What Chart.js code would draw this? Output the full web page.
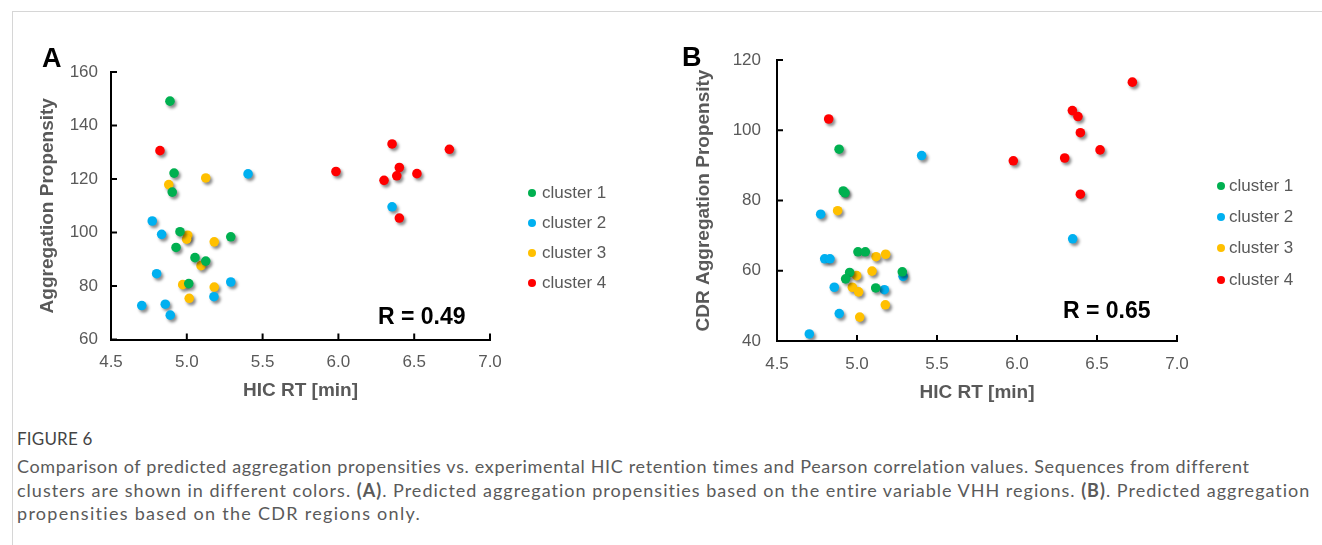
<!DOCTYPE html>
<html>
<head>
<meta charset="utf-8">
<script src="https://cdn.jsdelivr.net/npm/chart.js@4.4.1/dist/chart.umd.min.js"></script>
<style>
html,body{margin:0;padding:0;background:#fff;width:1322px;height:545px;overflow:hidden;font-family:"Liberation Sans",Arial,sans-serif;}
#frameTop{position:absolute;left:12px;top:11px;width:1310px;height:0;border-top:1px solid #d6d6d6;}
#frameLeft{position:absolute;left:12px;top:11px;width:0;height:534px;border-left:1px solid #d6d6d6;}
canvas{position:absolute;top:0;}
#cA{left:0;}
#cB{left:660px;}
.panel{position:absolute;font-weight:bold;font-size:27px;color:#000;line-height:1;}
.rlab{position:absolute;font-weight:bold;font-size:23px;color:#000;line-height:1;white-space:nowrap;}
.leg{position:absolute;font-size:17px;color:#595959;line-height:1;}
.leg div{position:absolute;white-space:nowrap;}
.leg span.dot{display:inline-block;width:8px;height:8px;border-radius:50%;vertical-align:1px;}
#cap{position:absolute;left:17px;top:428px;font-family:Lato,"Open Sans",sans-serif;color:#5a5a5a;}
#cap .fig{font-size:17px;color:#444;letter-spacing:0.2px;margin-bottom:6px;}
#cap .ln{font-size:18px;line-height:23.5px;white-space:nowrap;}
#cap .ln span{display:inline-block;}
</style>
</head>
<body>
<div id="frameTop"></div><div id="frameLeft"></div>
<canvas id="cA" width="660" height="420"></canvas>
<canvas id="cB" width="662" height="420"></canvas>
<div class="panel" style="left:42px;top:45px;">A</div>
<div class="panel" style="left:682px;top:44px;">B</div>
<div class="rlab" style="left:378px;top:305px;">R = 0.49</div>
<div class="rlab" style="left:1063px;top:299px;">R = 0.65</div>
<div class="leg" id="legA" style="left:528px;top:0;"></div>
<div class="leg" id="legB" style="left:1217px;top:0;"></div>
<div id="cap">
<div class="fig">FIGURE 6</div>
<div class="ln"><span>Comparison of predicted aggregation propensities vs. experimental HIC retention times and Pearson correlation values. Sequences from different</span></div>
<div class="ln"><span>clusters are shown in different colors. <b>(A)</b>. Predicted aggregation propensities based on the entire variable VHH regions. <b>(B)</b>. Predicted aggregation</span></div>
<div class="ln"><span>propensities based on the CDR regions only.</span></div>
</div>
<script>
// ---------- data ----------
const clusterLabels = ["cluster 1","cluster 2","cluster 3","cluster 4"];
const clusterColors = ["#00B050","#00B0F0","#FFC000","#FF0000"];
const xTicks = [4.5,5.0,5.5,6.0,6.5,7.0];
const yTicksA = [60,80,100,120,140,160];
const yTicksB = [40,60,80,100,120];

// Panel A: HIC RT vs Aggregation Propensity
const a1x = [4.889,4.916,4.904,4.955,5.290,4.929,5.054,5.125,5.013];
const a1y = [149.1,122.2,115.1,100.3,98.4,94.4,90.6,89.3,80.9];
const a2x = [5.404,4.772,4.834,4.801,5.290,5.179,4.703,4.858,4.891,6.354];
const a2y = [121.9,104.3,99.3,84.6,81.5,76.0,72.7,73.2,69.1,109.6];
const a3x = [5.125,4.881,5.006,4.999,5.181,5.094,4.973,5.181,5.016];
const a3y = [120.4,117.9,99.0,97.5,96.5,87.6,80.5,79.6,75.4];
const a4x = [4.823,6.354,6.732,5.984,6.402,6.385,6.518,6.301,6.402];
const a4y = [130.6,133.1,131.1,122.8,124.3,121.2,122.0,119.5,105.4];

// Panel B: HIC RT vs CDR Aggregation Propensity
const b1x = [4.888,4.914,4.925,5.006,5.052,4.954,4.929,5.283,5.117];
const b1y = [94.6,82.7,82.2,65.4,65.4,59.5,57.7,59.7,55.1];
const b2x = [5.404,4.773,4.798,4.831,5.288,4.858,5.171,4.889,4.702,6.348];
const b2y = [92.8,76.1,63.4,63.4,58.4,55.3,54.6,47.8,42.0,69.1];
const b3x = [4.879,5.119,5.179,4.998,5.094,4.971,5.010,5.177,5.017];
const b3y = [77.1,64.0,64.7,58.6,59.9,55.3,54.0,50.3,46.8];
const b4x = [4.823,6.721,6.346,6.381,6.396,6.519,5.977,6.298,6.396];
const b4y = [103.2,113.7,105.6,103.9,99.3,94.4,91.3,92.1,81.8];

const seriesA = [[a1x,a1y],[a2x,a2y],[a3x,a3y],[a4x,a4y]];
const seriesB = [[b1x,b1y],[b2x,b2y],[b3x,b3y],[b4x,b4y]];

// ---------- helpers ----------
const FONT = "'Liberation Sans', Arial, sans-serif";
const GRAY = "#595959";

function toPts(xs, ys){ return xs.map((x,i)=>({x:x, y:ys[i]})); }

const shadowPlugin = {
  id:'shadow',
  beforeDatasetsDraw(chart){
    const c = chart.ctx; c.save();
    c.shadowColor = 'rgba(0,0,0,0.45)';
    c.shadowBlur = 3; c.shadowOffsetX = 2; c.shadowOffsetY = 2.5;
  },
  afterDatasetsDraw(chart){ chart.ctx.restore(); }
};
const inwardTicks = {
  id:'inwardTicks',
  afterDraw(chart){
    const {ctx, chartArea:a, scales:{x,y}} = chart;
    ctx.save(); ctx.strokeStyle = '#000'; ctx.lineWidth = 2;
    x.ticks.forEach(t=>{ const p = x.getPixelForValue(t.value);
      ctx.beginPath(); ctx.moveTo(p, a.bottom); ctx.lineTo(p, a.bottom-6); ctx.stroke(); });
    y.ticks.forEach(t=>{ const p = y.getPixelForValue(t.value);
      ctx.beginPath(); ctx.moveTo(a.left, p); ctx.lineTo(a.left+6, p); ctx.stroke(); });
    ctx.restore();
  }
};

function makeChart(id, series, yTicks, yTitle, geo){
  const datasets = series.map((s,i)=>({
    label: clusterLabels[i], data: toPts(s[0], s[1]),
    backgroundColor: clusterColors[i], borderWidth: 0,
    pointRadius: 4.8, pointHoverRadius: 4.8
  }));
  return new Chart(document.getElementById(id), {
    type:'scatter',
    data:{datasets},
    plugins:[shadowPlugin, inwardTicks],
    options:{
      responsive:false, animation:false, events:[],
      layout:{padding:{left:20, top:geo.top, right:geo.right, bottom:12}},
      plugins:{legend:{display:false}, tooltip:{enabled:false}},
      scales:{
        x:{
          type:'linear', min:xTicks[0], max:xTicks[xTicks.length-1],
          afterBuildTicks(s){ s.ticks = xTicks.map(v=>({value:v})); },
          afterFit(s){ s.height = geo.xh; },
          grid:{display:false, drawTicks:false},
          border:{display:true, color:'#000', width:2},
          ticks:{padding:13, color:GRAY, font:{family:FONT, size:17},
                 callback:v=>Number(v).toFixed(1), maxRotation:0, autoSkip:false},
          title:{display:true, text:'HIC RT [min]', color:GRAY,
                 font:{family:FONT, size:19, weight:'bold'}, padding:{top:0,bottom:geo.xtp}}
        },
        y:{
          type:'linear', min:yTicks[0], max:yTicks[yTicks.length-1],
          afterBuildTicks(s){ s.ticks = yTicks.map(v=>({value:v})); },
          afterFit(s){ s.width = geo.yw; },
          grid:{display:false, drawTicks:false},
          border:{display:true, color:'#000', width:2},
          ticks:{padding:geo.ypad, color:GRAY, font:{family:FONT, size:17}, autoSkip:false},
          title:{display:true, text:yTitle, color:GRAY,
                 font:{family:FONT, size:19, weight:'bold'}, padding:{top:geo.ytp,bottom:0}}
        }
      }
    }
  });
}

makeChart('cA', seriesA, yTicksA, 'Aggregation Propensity',
  {top:72, right:170, xh:68.5, xtp:6, yw:91, ypad:13, ytp:16});
makeChart('cB', seriesB, yTicksB, 'CDR Aggregation Propensity',
  {top:60, right:145, xh:67, xtp:4, yw:97, ypad:16, ytp:12});

function buildLegend(id, tops, gap){
  const el = document.getElementById(id);
  clusterLabels.forEach((lab,i)=>{
    const d = document.createElement('div');
    d.style.top = tops[i] + 'px';
    const dot = document.createElement('span'); dot.className='dot';
    dot.style.background = clusterColors[i];
    dot.style.marginRight = gap + 'px';
    d.appendChild(dot); d.appendChild(document.createTextNode(lab));
    el.appendChild(d);
  });
}
buildLegend('legA', [184,214,244,274], 6);
buildLegend('legB', [177,208,239,271], 4);

// fit caption lines to the reference line widths
const targets = [1233, 1293, 403];
document.querySelectorAll('#cap .ln span').forEach((sp,i)=>{
  const t = targets[i];
  const n = sp.textContent.length - 1;
  const w = sp.getBoundingClientRect().width;
  sp.parentNode.style.letterSpacing = ((t - w) / n) + 'px';
});
</script>
</body>
</html>
